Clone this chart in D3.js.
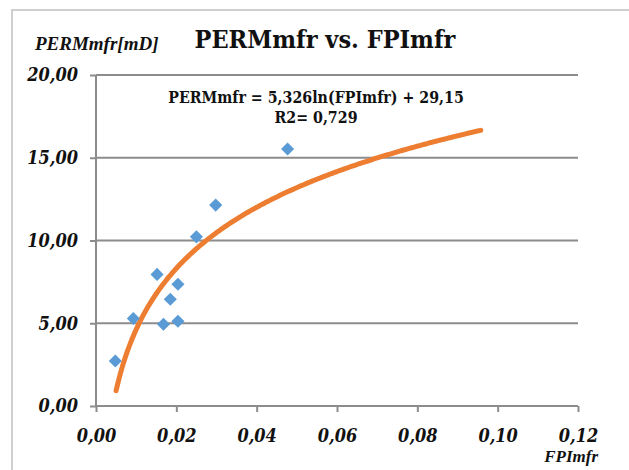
<!DOCTYPE html>
<html>
<head>
<meta charset="utf-8">
<script src="https://cdn.jsdelivr.net/npm/d3@7"></script>
<style>
  body { margin: 0; background: #fff; }
  text { font-family: "DejaVu Serif Condensed", "DejaVu Serif", serif; font-weight: bold; fill: #111; }
</style>
</head>
<body>
<div id="chart"></div>
<script>
// measured points (FPImfr, PERMmfr)
var fpi  = [0.0048, 0.0093, 0.0152, 0.0168, 0.0185, 0.0204, 0.0204, 0.0250, 0.0298, 0.0477];
var perm = [2.72, 5.29, 7.95, 4.94, 6.45, 7.36, 5.12, 10.22, 12.14, 15.53];

// log trend line as printed on the chart: y = a*ln(x) + b
var trendA = 5.326, trendB = 29.15;
var trendRange = [0.0050, 0.096];

var xTicks = [0, 0.02, 0.04, 0.06, 0.08, 0.10, 0.12];
var yTicks = [0, 5, 10, 15, 20];

var cond = "'DejaVu Serif Condensed', 'DejaVu Serif', serif";

var width = 629, height = 470;
var svg = d3.select("#chart").append("svg")
    .attr("width", width)
    .attr("height", height);

var x = d3.scaleLinear().domain([0, 0.12]).range([96, 578]);
var y = d3.scaleLinear().domain([0, 20]).range([406, 75]);
var fmt = function(d) { return d3.format(".2f")(d).replace(".", ","); };

// faint outer frame (left + top only, rest is cropped)
svg.append("path")
    .attr("d", "M12," + height + " L12,10 L" + width + ",10")
    .attr("fill", "none")
    .attr("stroke", "#cfcfcf")
    .attr("stroke-width", 2);

// horizontal grid
svg.append("g").selectAll("line")
    .data(yTicks.filter(function(d) { return d > 0; }))
    .enter().append("line")
    .attr("x1", x(0)).attr("x2", x(0.12))
    .attr("y1", function(d) { return y(d); })
    .attr("y2", function(d) { return y(d); })
    .attr("stroke", "#8c8c8c")
    .attr("stroke-width", 2);

// axes
var yAxis = svg.append("g")
    .attr("transform", "translate(" + x(0) + ",0)")
    .call(d3.axisLeft(y).tickValues(yTicks).tickSize(6).tickPadding(12).tickFormat(fmt));
var xAxis = svg.append("g")
    .attr("transform", "translate(0," + y(0) + ")")
    .call(d3.axisBottom(x).tickValues(xTicks).tickSize(6).tickPadding(17).tickFormat(fmt));

[yAxis, xAxis].forEach(function(ax) {
  ax.attr("font-family", null);
  ax.select(".domain").attr("stroke", "#8c8c8c").attr("stroke-width", 2);
  ax.selectAll(".tick line").attr("stroke", "#8c8c8c").attr("stroke-width", 2);
  ax.selectAll(".tick text")
    .style("font-family", cond)
    .style("font-weight", "bold")
    .style("font-style", "italic")
    .style("font-size", "18px")
    .attr("fill", "#111");
});
yAxis.select(".domain").attr("d", "M0," + y(20) + "V" + y(0));
xAxis.select(".domain").attr("d", "M" + x(0) + ",0H" + x(0.12));

// trend line
var trendPts = d3.range(trendRange[0], trendRange[1] + 1e-9, 0.0004).map(function(v) {
  return [v, trendA * Math.log(v) + trendB];
});
svg.append("path")
    .datum(trendPts)
    .attr("fill", "none")
    .attr("stroke", "#ED7D31")
    .attr("stroke-width", 5)
    .attr("stroke-linecap", "round")
    .attr("d", d3.line()
      .x(function(d) { return x(d[0]); })
      .y(function(d) { return y(d[1]); }));

// diamonds
var diamond = d3.symbol().type(d3.symbolSquare).size(86);
svg.append("g").selectAll("path")
    .data(fpi)
    .enter().append("path")
    .attr("d", diamond)
    .attr("fill", "#5B9BD5")
    .attr("transform", function(d, i) {
      return "translate(" + x(d) + "," + y(perm[i]) + ") rotate(45)";
    });

// titles
svg.append("text")
    .attr("x", 325).attr("y", 48)
    .attr("text-anchor", "middle")
    .style("font-family", cond)
    .style("font-size", "25px")
    .text("PERMmfr  vs. FPImfr");

svg.append("text")
    .attr("x", 35).attr("y", 50)
    .style("font-family", "serif")
    .style("font-size", "19px")
    .style("font-style", "italic")
    .text("PERMmfr[mD]");

svg.append("text")
    .attr("x", 598).attr("y", 462)
    .attr("text-anchor", "end")
    .style("font-family", "serif")
    .style("font-size", "17px")
    .style("font-style", "italic")
    .text("FPImfr");

// trend equation
svg.append("text")
    .attr("x", 316).attr("y", 103)
    .attr("text-anchor", "middle")
    .style("font-family", cond)
    .style("font-size", "15.8px")
    .text("PERMmfr = 5,326ln(FPImfr) + 29,15");
svg.append("text")
    .attr("x", 316).attr("y", 123)
    .attr("text-anchor", "middle")
    .style("font-family", cond)
    .style("font-size", "15.8px")
    .text("R2= 0,729");
</script>
</body>
</html>
